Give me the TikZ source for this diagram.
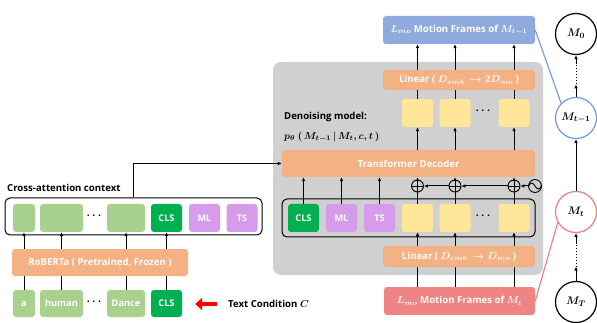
\documentclass[tikz,border=0pt]{standalone}
\usepackage{amsmath}
\usepackage{fontspec}
\setmainfont{Open Sans}
\usetikzlibrary{arrows.meta}
\definecolor{panelgray}{HTML}{D0D0D0}
\definecolor{peach}{HTML}{F4B183}
\definecolor{ltgreen}{HTML}{A9D18E}
\definecolor{dkgreen}{HTML}{00B050}
\definecolor{lilac}{HTML}{D69CEB}
\definecolor{butter}{HTML}{FFE699}
\definecolor{skyblue}{HTML}{8FAADC}
\definecolor{salmon}{HTML}{EF8484}
\definecolor{ringblue}{HTML}{7199DC}
\definecolor{ringred}{HTML}{F07C7C}
\newcommand\fsmain{\fontsize{9.6}{11}\selectfont}
\newcommand\fstok{\fontsize{9.2}{10.5}\selectfont}
\newcommand\tokdots{{\boldmath$\cdots$}}
\begin{document}
\begin{tikzpicture}[x=1pt,y=-1pt,
  blk/.style={rounded corners=3pt, inner sep=0pt, text=white, font=\fsmain\bfseries\boldmath},
  tok/.style={blk, minimum height=28pt, minimum width=31pt, font=\fstok\bfseries},
  group/.style={draw, line width=1pt, rounded corners=5pt, inner sep=0pt},
  arr/.style={line width=1pt, -{Latex[length=4pt,width=3.6pt]}},
  ln/.style={line width=1pt},
  dotsym/.style={inner sep=0pt, font=\fontsize{11}{12}\selectfont},
  plus/.style={circle, draw, line width=0.9pt, minimum size=12pt, inner sep=0pt, fill=panelgray,
    path picture={\draw[line width=0.9pt]
      (path picture bounding box.north) -- (path picture bounding box.south)
      (path picture bounding box.west) -- (path picture bounding box.east);}},
  wave/.style={circle, draw, line width=0.9pt, minimum size=13pt, inner sep=0pt,
    path picture={\draw[line width=0.9pt] ([xshift=-6.5pt]path picture bounding box.center)
      sin ++(3.25pt,3pt) cos ++(3.25pt,-3pt) sin ++(3.25pt,-3pt) cos ++(3.25pt,3pt);}},
  state/.style={circle, draw, line width=1.2pt, minimum size=41pt, inner sep=0pt, fill=white,
    font=\fontsize{11}{12}\selectfont\boldmath}]
\useasboundingbox (0,0) rectangle (597,323);

% ---------- denoising model panel ----------
\fill[panelgray, rounded corners=8pt] (273,62) rectangle (543,275);

\node[blk, fill=skyblue, minimum width=152pt, minimum height=28pt] (outbox) at (459,30)
  {$L_{mo}$ Motion Frames of $M_{t-1}$};
\node[blk, fill=salmon, minimum width=151pt, minimum height=28pt] (inbox) at (459.5,301)
  {$L_{mo}$ Motion Frames of $M_{t}$};

% output embeddings
\node[tok, fill=butter] (y1) at (417.5,113) {};
\node[tok, fill=butter] (y2) at (455,113) {};
\node[tok, fill=butter] (y3) at (514,113) {};
\node[dotsym] at (484,111) {\tokdots};

\node[blk, fill=peach, minimum width=253pt, minimum height=27pt] (dec) at (408.5,163.5) {Transformer Decoder};

\node[anchor=west, inner sep=0pt, font=\fsmain\bfseries] at (284,117) {Denoising model:};
\node[anchor=west, inner sep=0pt, font=\fsmain\boldmath] at (284,137)
  {$p_\theta\ (\,M_{t-1}\,|\,M_t, c, t\,)$};

% input token row
\node[group, minimum width=253pt, minimum height=38pt] (inrow) at (408.5,218) {};
\node[tok, fill=dkgreen] (pcls) at (303.5,218) {CLS};
\node[tok, fill=lilac] (pml) at (341.5,218) {ML};
\node[tok, fill=lilac] (pts) at (379.5,218) {TS};
\node[tok, fill=butter] (x1) at (417.5,218) {};
\node[tok, fill=butter] (x2) at (455,218) {};
\node[tok, fill=butter] (x3) at (514,218) {};
\node[dotsym] at (484,216) {\tokdots};

% positional encoding
\node[plus] (s1) at (417.5,186) {};
\node[plus] (s2) at (455,186) {};
\node[plus] (s3) at (514,186) {};
\node[wave] (pe) at (535,186) {};

% connectors that pass behind the linear layers
\draw[arr] (x1 |- inbox.north) -- (x1.south);
\draw[arr] (x2 |- inbox.north) -- (x2.south);
\draw[arr] (x3 |- inbox.north) -- (x3.south);
\draw[arr] (y1.north) -- (y1 |- outbox.south);
\draw[arr] (y2.north) -- (y2 |- outbox.south);
\draw[arr] (y3.north) -- (y3 |- outbox.south);

\node[blk, fill=peach, minimum width=152pt, minimum height=21pt] (linin) at (459,256.5)
  {Linear ( $D_{emb}\ \rightarrow D_{mo}$ )};
\node[blk, fill=peach, minimum width=152pt, minimum height=20pt] (linout) at (459,80)
  {Linear ( $D_{emb}\ \rightarrow 2D_{mo}$ )};

\draw[ln] (x1.north) -- (s1.south);
\draw[ln] (x2.north) -- (s2.south);
\draw[ln] (x3.north) -- (s3.south);
\draw[arr] (s1.north) -- (s1 |- dec.south);
\draw[arr] (s2.north) -- (s2 |- dec.south);
\draw[arr] (s3.north) -- (s3 |- dec.south);
\draw[arr] (pe.west) -- (s3.east);
\draw[arr] (s3.west) -- (s2.east);
\draw[arr] (s2.west) -- (s1.east);
\draw[arr] (pcls.north) -- (pcls |- dec.south);
\draw[arr] (pml.north) -- (pml |- dec.south);
\draw[arr] (pts.north) -- (pts |- dec.south);
\draw[arr] (dec.north -| y1) -- (y1.south);
\draw[arr] (dec.north -| y2) -- (y2.south);
\draw[arr] (dec.north -| y3) -- (y3.south);

% ---------- text encoder ----------
\node[anchor=west, inner sep=0pt, font=\fsmain\bfseries] at (7,188) {Cross-attention context};
\node[group, minimum width=257pt, minimum height=37pt] (ctx) at (133.5,216.5) {};
\node[tok, fill=ltgreen, minimum width=22pt] (c1) at (24,218) {};
\node[tok, fill=ltgreen, minimum width=43pt] (c2) at (61.5,218) {};
\node[dotsym, text=black] at (95,216) {\tokdots};
\node[tok, fill=ltgreen, minimum width=38pt] (c3) at (126,218) {};
\node[tok, fill=dkgreen] (c4) at (166.5,218) {CLS};
\node[tok, fill=lilac] (c5) at (204.5,218) {ML};
\node[tok, fill=lilac] (c6) at (242,218) {TS};

\node[tok, fill=ltgreen, minimum width=22pt, minimum height=27pt] (w1) at (24,303.5) {a};
\node[tok, fill=ltgreen, minimum width=43pt, minimum height=27pt] (w2) at (61.5,303.5) {human};
\node[dotsym, text=black] at (95,302) {\tokdots};
\node[tok, fill=ltgreen, minimum width=38pt, minimum height=27pt] (w3) at (126,303.5) {Dance};
\node[tok, fill=dkgreen, minimum width=31pt, minimum height=27pt] (w4) at (166.5,303.5) {CLS};

\draw[arr] (w1.north) -- (c1.south);
\draw[arr] (w2.north) -- (c2.south);
\draw[arr] (w3.north) -- (c3.south);
\draw[arr] (w4.north) -- (c4.south);
\node[blk, fill=peach, minimum width=176pt, minimum height=27pt] (rob) at (100,262.5)
  {RoBERTa ( Pretrained, Frozen )};

\draw[arr] (ctx.north) |- (dec.west);

\node[anchor=west, inner sep=0pt, font=\fsmain\bfseries\boldmath] (cond) at (228,304)
  {Text Condition $C$};
\draw[line width=4.5pt, red, -{Triangle[length=7pt,width=12pt]}, shorten <=11pt, shorten >=13pt]
  (cond.west) -- (w4.east |- cond.west);

% ---------- diffusion chain ----------
\node[state] (m0) at (576,34) {$M_0$};
\node[state, draw=ringblue] (mprev) at (576,118) {$M_{t-1}$};
\node[state, draw=ringred] (mcur) at (576,212) {$M_t$};
\node[state] (mT) at (576,302) {$M_T$};

\path (mprev.north) -- (m0.south) coordinate[pos=0.3] (u1) coordinate[pos=0.78] (u2);
\draw[arr] (mprev.north) -- (u1);
\draw[ln, dotted] (u1) -- (u2);
\draw[arr] (u2) -- (m0.south);
\draw[arr] (mcur.north) -- (mprev.south);
\path (mT.north) -- (mcur.south) coordinate[pos=0.3] (v1) coordinate[pos=0.78] (v2);
\draw[arr] (mT.north) -- (v1);
\draw[ln, dotted] (v1) -- (v2);
\draw[arr] (v2) -- (mcur.south);

\draw[ringblue, line width=1.1pt] (outbox.east) -- (mprev.135);
\draw[ringred, line width=1.1pt] (inbox.east) -- (mcur.210);
\end{tikzpicture}
\end{document}
